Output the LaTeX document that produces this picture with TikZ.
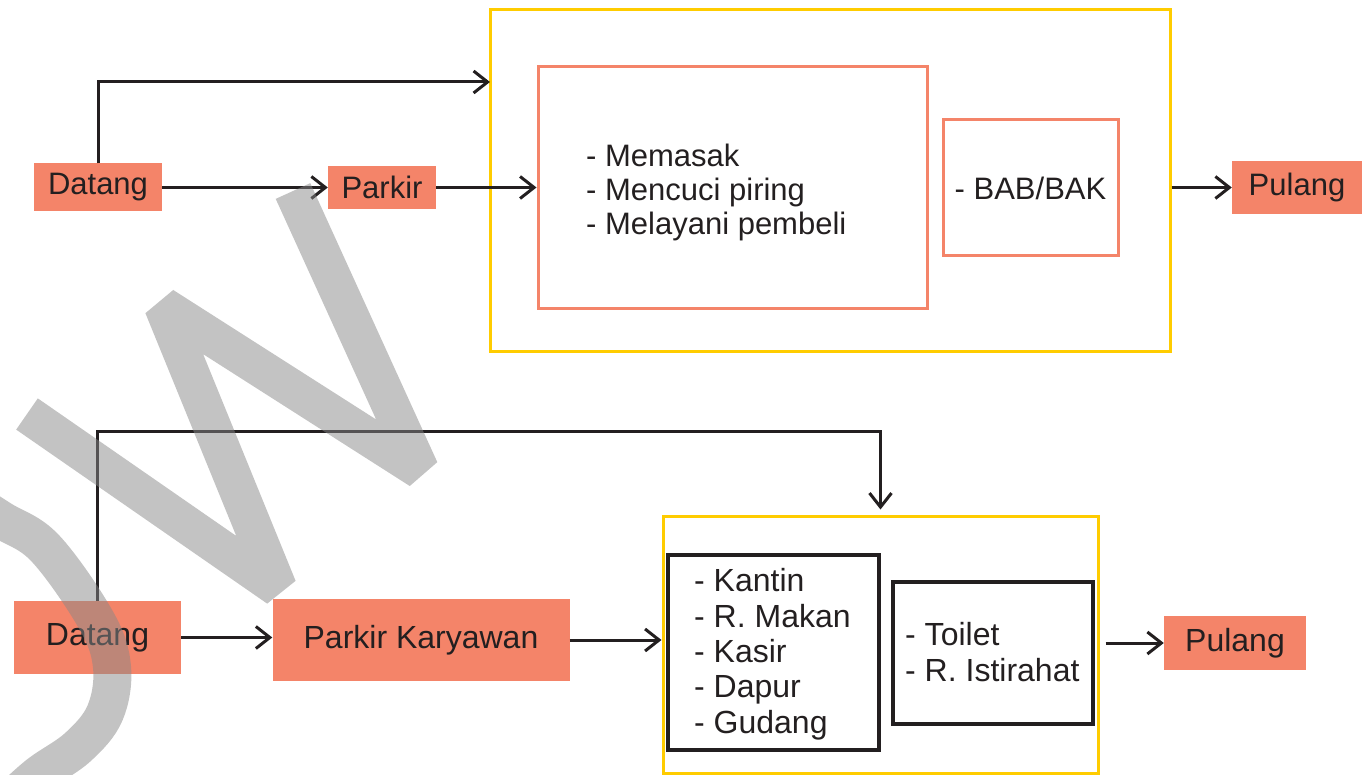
\documentclass[tikz,border=0pt]{standalone}
\usepackage{fontspec}
\setmainfont{Liberation Sans}
\usetikzlibrary{arrows.meta}
\definecolor{salmon}{RGB}{244,132,105}
\definecolor{gold}{RGB}{255,204,0}
\definecolor{ink}{RGB}{35,31,32}
\definecolor{markgray}{RGB}{136,136,136}
\begin{document}
\begin{tikzpicture}[x=1pt,y=-1pt,
  txt/.style={font=\fontsize{31}{34}\selectfont, text=ink},
  bigtxt/.style={font=\fontsize{32}{35.3}\selectfont, text=ink},
  orangebox/.style={rectangle, fill=salmon, draw=none, inner sep=0pt, txt},
  goldframe/.style={rectangle, draw=gold, line width=3pt, inner sep=0pt},
  pinkframe/.style={rectangle, draw=salmon, line width=3pt, inner sep=0pt, txt},
  blackframe/.style={rectangle, draw=ink, line width=3.5pt, inner sep=0pt},
  listtext/.style={align=left, inner sep=0pt, anchor=base west},
  flow/.style={draw=ink, line width=3pt, -{Straight Barb[length=14pt,width=22pt]}},
  watermark/.style={draw=markgray, line width=38pt, opacity=0.5, line join=bevel, line cap=butt}
]
\useasboundingbox (0,0) rectangle (1366,775);

% ---------- upper flow: kitchen staff ----------
\node[goldframe, minimum width=680pt, minimum height=342pt] (gold1) at (830,181) {};
\node[pinkframe, minimum width=389pt, minimum height=242pt] (pink1) at (732.5,188) {};
% the base anchor of a multi-line node sits on its last line
\node[listtext, txt] (tasks1) at (586,235) {- Memasak\\- Mencuci piring\\- Melayani pembeli};
\node[pinkframe, minimum width=175pt, minimum height=136pt] (bab1) at (1030.5,188) {- BAB/BAK};

\node[orangebox, minimum width=128pt, minimum height=48pt] (datang1) at (98,187.5) {Datang};
\node[orangebox, minimum width=108pt, minimum height=43pt] (parkir1) at (382,187.5) {Parkir};
\node[orangebox, minimum width=130pt, minimum height=53pt] (pulang1) at (1297,187.5) {Pulang};

\coordinate (topentry) at (490,82);
\draw[flow] (datang1.north) |- (topentry);
\draw[flow] (datang1.east) -- (parkir1.west);
\draw[flow] (parkir1.east) -- (parkir1.east -| pink1.west);
\draw[flow] (gold1.east |- pulang1.west) -- (pulang1.west);

% ---------- lower flow: employees ----------
\node[goldframe, minimum width=435pt, minimum height=257pt] (gold2) at (880.5,644.5) {};
\node[blackframe, minimum width=211pt, minimum height=195pt] (rooms2) at (773.5,652.5) {};
\node[listtext, bigtxt] (roomlist2) at (694,733)
  {- Kantin\\- R. Makan\\- Kasir\\- Dapur\\- Gudang};
\node[blackframe, minimum width=200pt, minimum height=142pt] (rest2) at (993,653) {};
\node[listtext, bigtxt, font=\fontsize{32}{36}\selectfont] (restlist2) at (905,681)
  {- Toilet\\- R. Istirahat};

\node[orangebox, bigtxt, minimum width=167pt, minimum height=73pt] (datang2) at (97.5,637.5) {Datang};
\node[orangebox, bigtxt, minimum width=297pt, minimum height=82pt] (parkirk) at (421,640) {Parkir Karyawan};
\node[orangebox, bigtxt, minimum width=142pt, minimum height=54pt] (pulang2) at (1235,643) {Pulang};

\coordinate (bend) at (97.5,432);
\draw[flow, shorten >=5pt] (datang2.north) -- (bend) -| (gold2.north);
\draw[flow] (datang2.east) -- (datang2.east -| parkirk.west);
\draw[flow] (parkirk.east) -- (parkirk.east -| gold2.west);
\draw[flow, shorten <=6pt] (gold2.east |- pulang2.west) -- (pulang2.west);

% ---------- translucent grey lettering laid over the chart ----------
\begin{scope}
  \clip (0,0) rectangle (1366,775);
  \draw[watermark] (27,414) -- (278,588) -- (163,306) -- (420,470) -- (293,191);
  \draw[watermark] plot[smooth, tension=0.6] coordinates
    {(-45,490) (0,519) (45,548) (96,620) (112,667) (105,713) (78,747) (38,775) (5,805)};
\end{scope}
\end{tikzpicture}
\end{document}
